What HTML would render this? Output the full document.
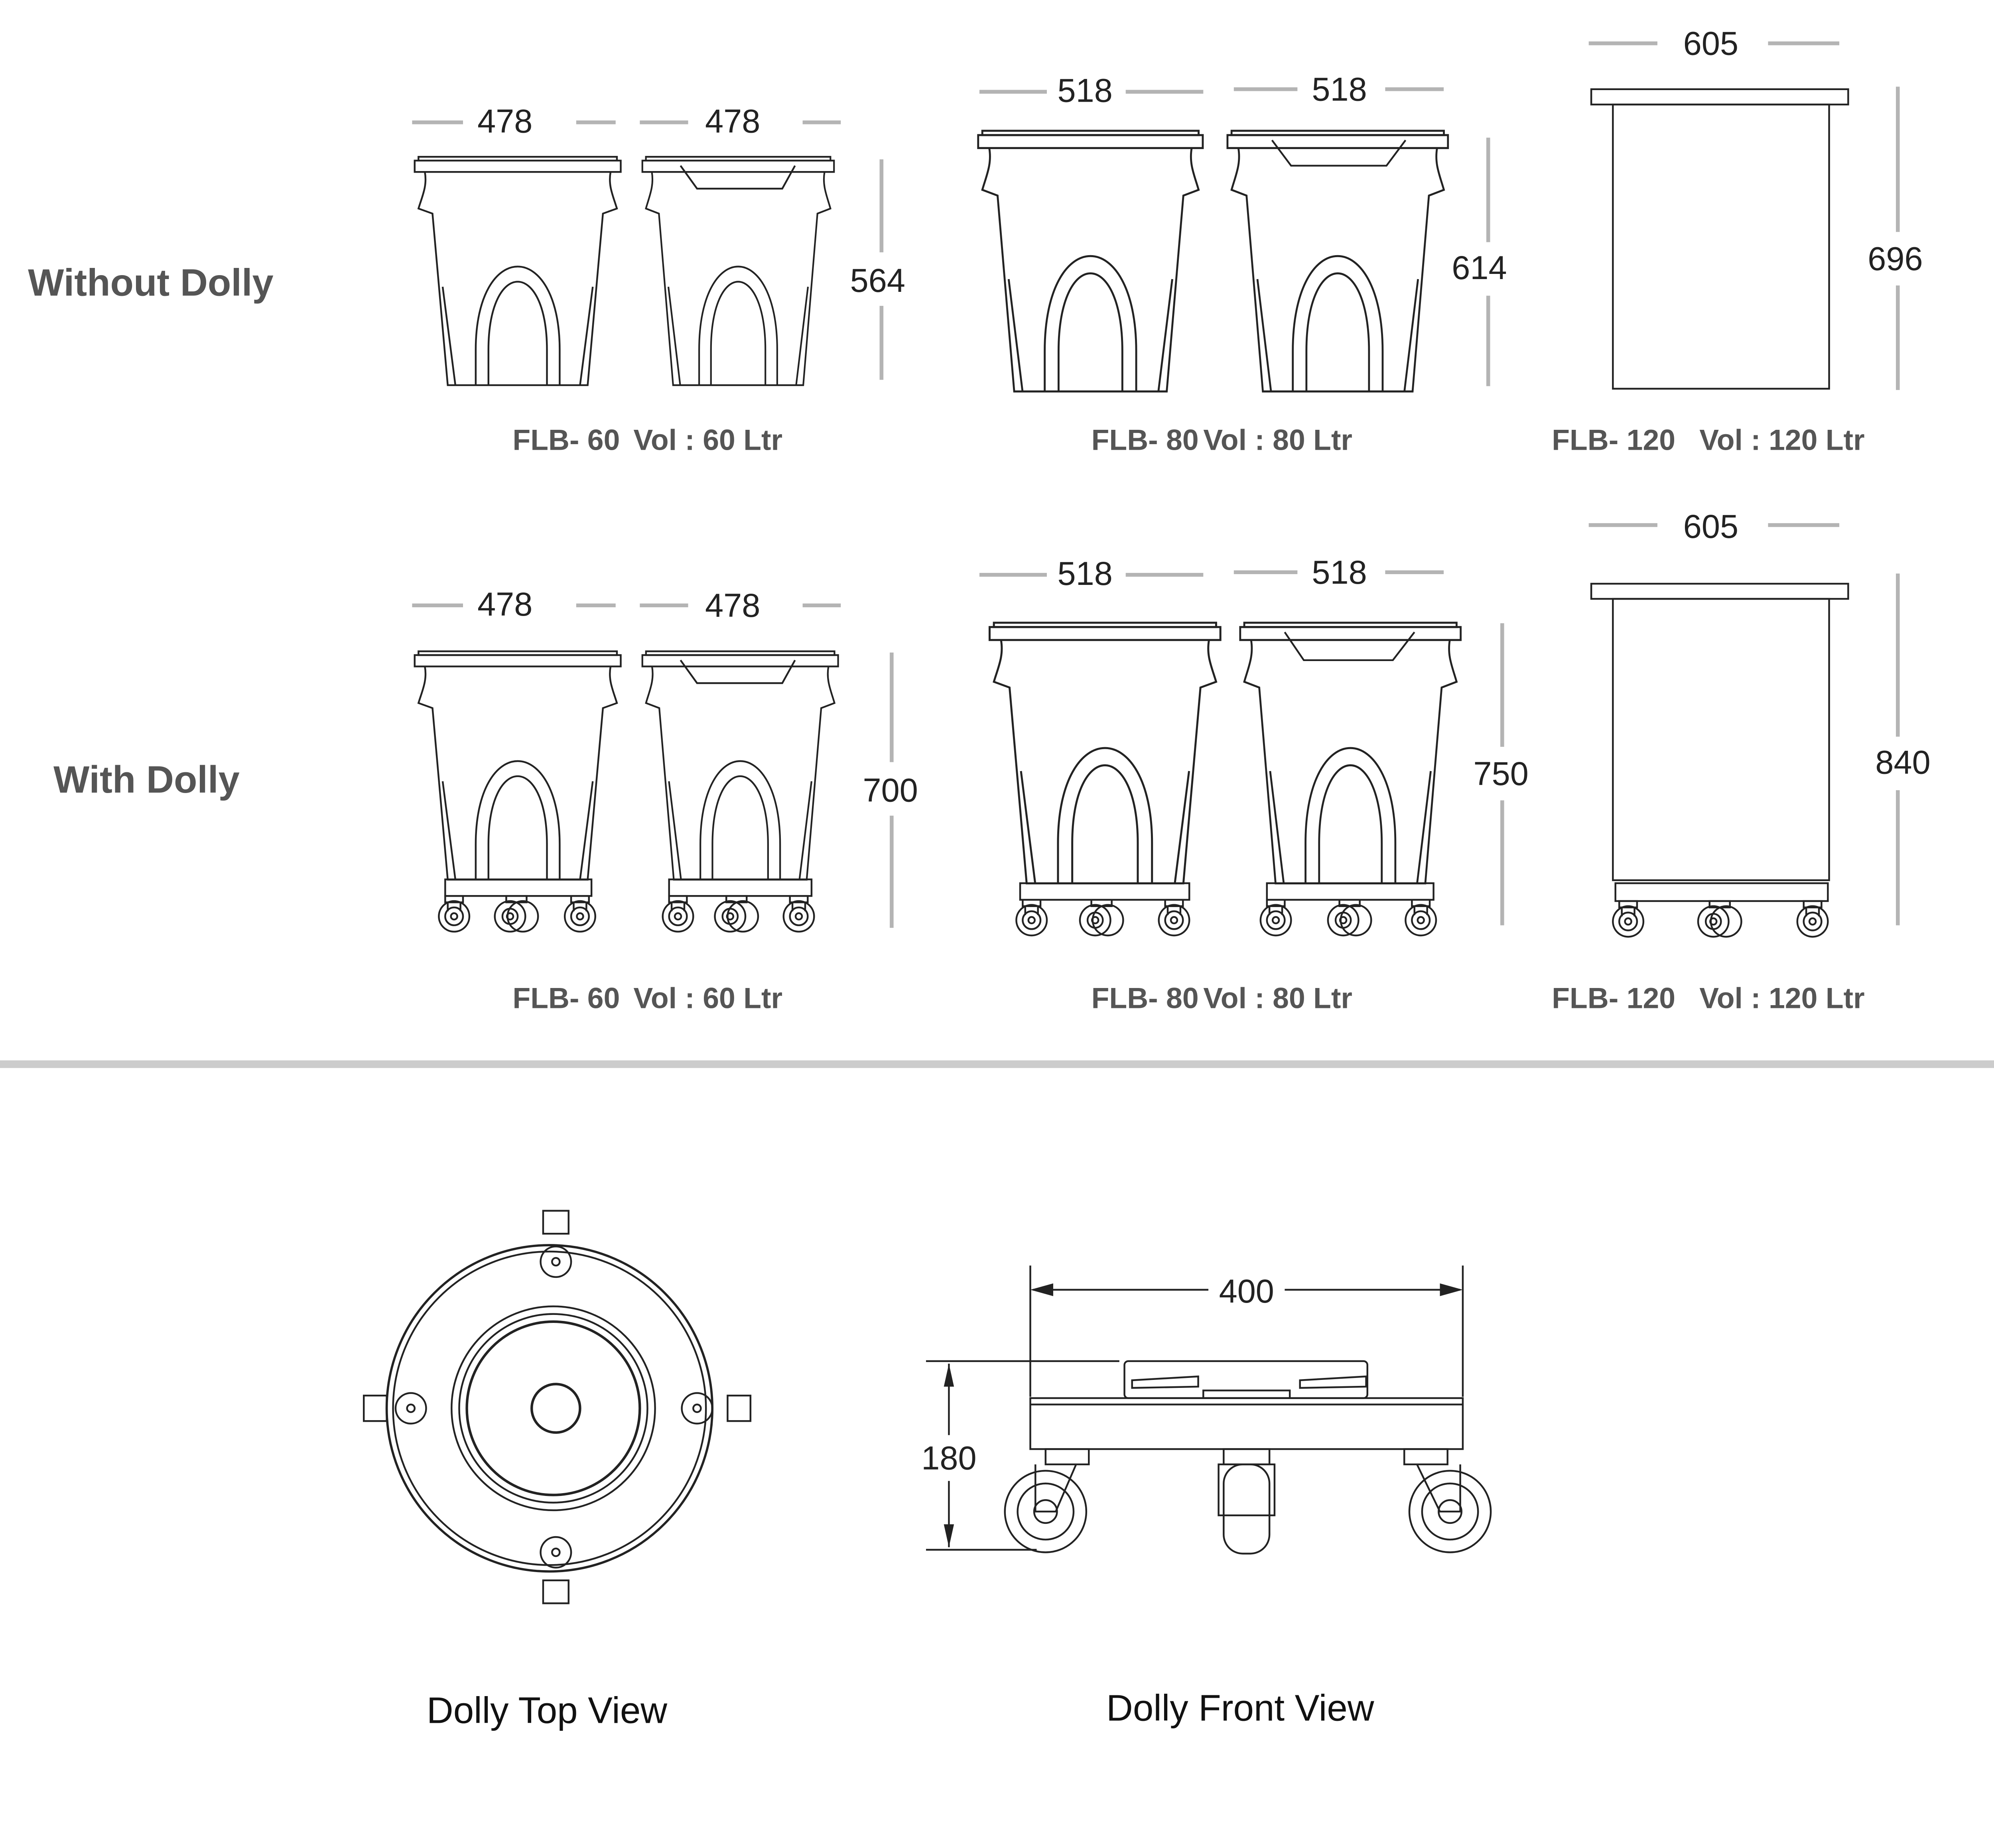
<!DOCTYPE html>
<html><head><meta charset="utf-8"><style>
html,body{margin:0;padding:0;background:#fff}
svg{display:block}
.dt{font-family:"Liberation Sans",sans-serif;font-size:26px;fill:#222;text-anchor:middle}
.lb{font-family:"Liberation Sans",sans-serif;font-size:23px;font-weight:bold;fill:#555}
.hd{font-family:"Liberation Sans",sans-serif;font-size:30px;font-weight:bold;fill:#555}
.cap{font-family:"Liberation Sans",sans-serif;font-size:29px;fill:#111;text-anchor:middle}
.dl{stroke:#b4b4b4;stroke-width:3}
.k{fill:none;stroke:#222;stroke-width:1.4}
</style></head><body>
<svg width="5065" height="4635" viewBox="0 0 1588 1450" preserveAspectRatio="none" xmlns="http://www.w3.org/2000/svg">
<defs>
<g id="bin">
<rect class="k" x="0" y="0" width="162" height="9"/>
<rect class="k" x="3" y="-3" width="156" height="3"/>
<path class="k" d="M8,9 C10,20 6,28 3,38 L14,42 L26,178 L136,178 L148,42 L159,38 C156,28 152,20 154,9"/>
<path class="k" d="M48,178 L48,150 C48,62 114,62 114,150 L114,178 M58,178 L58,150 C58,78 104,78 104,150 L104,178"/>
<path class="k" d="M22,100 L32,178 M140,100 L130,178"/>
</g>
<g id="bin120">
<rect class="k" x="0" y="0" width="202" height="12"/>
<rect class="k" x="17" y="12" width="170" height="223"/>
</g>
<g id="wheel">
<rect class="k" x="-7" y="0" width="14" height="5"/>
<line class="k" x1="-5" y1="5" x2="-5" y2="12"/><line class="k" x1="5" y1="5" x2="5" y2="12"/>
<circle class="k" cx="0" cy="16" r="12"/><circle class="k" cx="0" cy="16" r="7"/><circle class="k" cx="0" cy="16" r="2.5"/>
</g>
<g id="dwheel">
<rect class="k" x="-8" y="0" width="16" height="5"/>
<circle class="k" cx="-5" cy="16" r="12"/><circle class="k" cx="5" cy="16" r="12"/><circle class="k" cx="-5" cy="16" r="6"/><circle class="k" cx="-5" cy="16" r="2.5"/>
</g>
</defs>

<text class="hd" x="22" y="232">Without Dolly</text>
<text class="hd" x="42" y="622">With Dolly</text>

<g transform="translate(326,126) scale(1,0.99)"><use href="#bin"/></g>
<g transform="translate(505,126) scale(0.93,0.99)"><use href="#bin"/></g>
<path class="k" d="M535,130 L548,148 L615,148 L625,130"/>
<g transform="translate(769,106) scale(1.09,1.13)"><use href="#bin"/></g>
<g transform="translate(965,106) scale(1.07,1.13)"><use href="#bin"/></g>
<path class="k" d="M1000,110 L1015,130 L1090,130 L1105,110"/>
<g transform="translate(1251,70)"><use href="#bin120"/></g>

<line class="dl" x1="324" y1="96" x2="364" y2="96"/><line class="dl" x1="453" y1="96" x2="484" y2="96"/><text class="dt" x="397" y="104">478</text>
<line class="dl" x1="503" y1="96" x2="541" y2="96"/><line class="dl" x1="631" y1="96" x2="661" y2="96"/><text class="dt" x="576" y="104">478</text>
<line class="dl" x1="693" y1="125" x2="693" y2="198"/><line class="dl" x1="693" y1="240" x2="693" y2="298"/><text class="dt" x="690" y="229">564</text>
<line class="dl" x1="770" y1="72" x2="823" y2="72"/><line class="dl" x1="885" y1="72" x2="946" y2="72"/><text class="dt" x="853" y="80">518</text>
<line class="dl" x1="970" y1="70" x2="1020" y2="70"/><line class="dl" x1="1089" y1="70" x2="1135" y2="70"/><text class="dt" x="1053" y="79">518</text>
<line class="dl" x1="1170" y1="108" x2="1170" y2="190"/><line class="dl" x1="1170" y1="232" x2="1170" y2="303"/><text class="dt" x="1163" y="219">614</text>
<line class="dl" x1="1249" y1="34" x2="1303" y2="34"/><line class="dl" x1="1390" y1="34" x2="1446" y2="34"/><text class="dt" x="1345" y="43">605</text>
<line class="dl" x1="1492" y1="68" x2="1492" y2="182"/><line class="dl" x1="1492" y1="224" x2="1492" y2="306"/><text class="dt" x="1490" y="212">696</text>
<text class="lb" x="403" y="353">FLB- 60</text><text class="lb" x="498" y="353">Vol : 60 Ltr</text>
<text class="lb" x="858" y="353">FLB- 80</text><text class="lb" x="946" y="353">Vol : 80 Ltr</text>
<text class="lb" x="1220" y="353">FLB- 120</text><text class="lb" x="1336" y="353">Vol : 120 Ltr</text>

<g transform="translate(326,514) scale(1,0.99)"><use href="#bin"/></g>
<rect class="k" x="350" y="690" width="115" height="13"/>
<use href="#wheel" x="357" y="703"/><use href="#dwheel" x="406" y="703"/><use href="#wheel" x="456" y="703"/>
<g transform="translate(505,514) scale(0.95,0.99)"><use href="#bin"/></g>
<path class="k" d="M535,518 L548,536 L615,536 L625,518"/>
<rect class="k" x="526" y="690" width="112" height="13"/>
<use href="#wheel" x="533" y="703"/><use href="#dwheel" x="579" y="703"/><use href="#wheel" x="628" y="703"/>
<g transform="translate(778,492) scale(1.12,1.13)"><use href="#bin"/></g>
<rect class="k" x="802" y="693" width="133" height="13"/>
<use href="#wheel" x="811" y="706"/><use href="#dwheel" x="866" y="706"/><use href="#wheel" x="923" y="706"/>
<g transform="translate(975,492) scale(1.07,1.13)"><use href="#bin"/></g>
<path class="k" d="M1010,496 L1025,518 L1095,518 L1112,496"/>
<rect class="k" x="996" y="693" width="131" height="13"/>
<use href="#wheel" x="1003" y="706"/><use href="#dwheel" x="1061" y="706"/><use href="#wheel" x="1117" y="706"/>
<g transform="translate(1251,458) scale(1,0.99)"><use href="#bin120"/></g>
<rect class="k" x="1270" y="693" width="167" height="14"/>
<use href="#wheel" x="1280" y="707"/><use href="#dwheel" x="1352" y="707"/><use href="#wheel" x="1425" y="707"/>

<line class="dl" x1="324" y1="475" x2="364" y2="475"/><line class="dl" x1="453" y1="475" x2="484" y2="475"/><text class="dt" x="397" y="483">478</text>
<line class="dl" x1="503" y1="475" x2="541" y2="475"/><line class="dl" x1="631" y1="475" x2="661" y2="475"/><text class="dt" x="576" y="484">478</text>
<line class="dl" x1="701" y1="512" x2="701" y2="598"/><line class="dl" x1="701" y1="640" x2="701" y2="728"/><text class="dt" x="700" y="629">700</text>
<line class="dl" x1="770" y1="451" x2="823" y2="451"/><line class="dl" x1="885" y1="451" x2="946" y2="451"/><text class="dt" x="853" y="459">518</text>
<line class="dl" x1="970" y1="449" x2="1020" y2="449"/><line class="dl" x1="1089" y1="449" x2="1135" y2="449"/><text class="dt" x="1053" y="458">518</text>
<line class="dl" x1="1181" y1="489" x2="1181" y2="586"/><line class="dl" x1="1181" y1="628" x2="1181" y2="726"/><text class="dt" x="1180" y="616">750</text>
<line class="dl" x1="1249" y1="412" x2="1303" y2="412"/><line class="dl" x1="1390" y1="412" x2="1446" y2="412"/><text class="dt" x="1345" y="422">605</text>
<line class="dl" x1="1492" y1="450" x2="1492" y2="578"/><line class="dl" x1="1492" y1="620" x2="1492" y2="726"/><text class="dt" x="1496" y="607">840</text>
<text class="lb" x="403" y="791">FLB- 60</text><text class="lb" x="498" y="791">Vol : 60 Ltr</text>
<text class="lb" x="858" y="791">FLB- 80</text><text class="lb" x="946" y="791">Vol : 80 Ltr</text>
<text class="lb" x="1220" y="791">FLB- 120</text><text class="lb" x="1336" y="791">Vol : 120 Ltr</text>

<rect x="0" y="832" width="1600" height="6" fill="#cccccc"/>

<g>
<rect class="k" x="427" y="950" width="20" height="18"/>
<rect class="k" x="427" y="1240" width="20" height="18"/>
<rect class="k" x="286" y="1095" width="18" height="20"/>
<rect class="k" x="572" y="1095" width="18" height="20"/>
<circle class="k" cx="432" cy="1105" r="128" style="stroke-width:1.8"/>
<circle class="k" cx="432" cy="1105" r="123"/>
<circle class="k" cx="435" cy="1105" r="80"/>
<circle class="k" cx="435" cy="1105" r="74"/>
<circle class="k" cx="435" cy="1105" r="68" style="stroke-width:2"/>
<circle class="k" cx="437" cy="1105" r="19" style="stroke-width:2"/>
<circle class="k" cx="437" cy="990" r="12"/><circle class="k" cx="437" cy="990" r="3"/>
<circle class="k" cx="437" cy="1218" r="12"/><circle class="k" cx="437" cy="1218" r="3"/>
<circle class="k" cx="323" cy="1105" r="12"/><circle class="k" cx="323" cy="1105" r="3"/>
<circle class="k" cx="548" cy="1105" r="12"/><circle class="k" cx="548" cy="1105" r="3"/>
</g>
<text class="cap" x="430" y="1352">Dolly Top View</text>

<g>
<line class="k" x1="810" y1="993" x2="810" y2="1096"/>
<line class="k" x1="1150" y1="993" x2="1150" y2="1096"/>
<line class="k" x1="812" y1="1012" x2="950" y2="1012"/>
<line class="k" x1="1010" y1="1012" x2="1148" y2="1012"/>
<path d="M810,1012 L828,1007 L828,1017Z M1150,1012 L1132,1007 L1132,1017Z" fill="#222"/>
<text class="dt" x="980" y="1022">400</text>
<line class="k" x1="728" y1="1068" x2="880" y2="1068"/>
<line class="k" x1="728" y1="1216" x2="815" y2="1216"/>
<line class="k" x1="746" y1="1070" x2="746" y2="1126"/>
<line class="k" x1="746" y1="1162" x2="746" y2="1214"/>
<path d="M746,1070 L742,1088 L750,1088Z M746,1214 L742,1196 L750,1196Z" fill="#222"/>
<text class="dt" x="746" y="1153">180</text>
<rect class="k" x="884" y="1068" width="191" height="29" rx="3"/>
<path class="k" d="M890,1083 L942,1080 L942,1088 L890,1089Z M1022,1083 L1074,1080 L1074,1088 L1022,1089Z"/>
<rect class="k" x="810" y="1097" width="340" height="40"/>
<line class="k" x1="810" y1="1102" x2="1150" y2="1102"/>
<rect class="k" x="946" y="1091" width="68" height="6"/>
<rect class="k" x="822" y="1137" width="34" height="12"/>
<rect class="k" x="1104" y="1137" width="34" height="12"/>
<rect class="k" x="962" y="1137" width="36" height="12"/>
<circle class="k" cx="822" cy="1186" r="32"/><circle class="k" cx="822" cy="1186" r="22"/><circle class="k" cx="822" cy="1186" r="9"/>
<path class="k" d="M814,1149 L814,1186 L830,1186 L846,1149"/>
<circle class="k" cx="1140" cy="1186" r="32"/><circle class="k" cx="1140" cy="1186" r="22"/><circle class="k" cx="1140" cy="1186" r="9"/>
<path class="k" d="M1148,1149 L1148,1186 L1132,1186 L1114,1149"/>
<rect class="k" x="962" y="1149" width="36" height="70" rx="15"/>
<rect class="k" x="958" y="1149" width="44" height="40"/>
</g>
<text class="cap" x="975" y="1350">Dolly Front View</text>
</svg>
</body></html>
